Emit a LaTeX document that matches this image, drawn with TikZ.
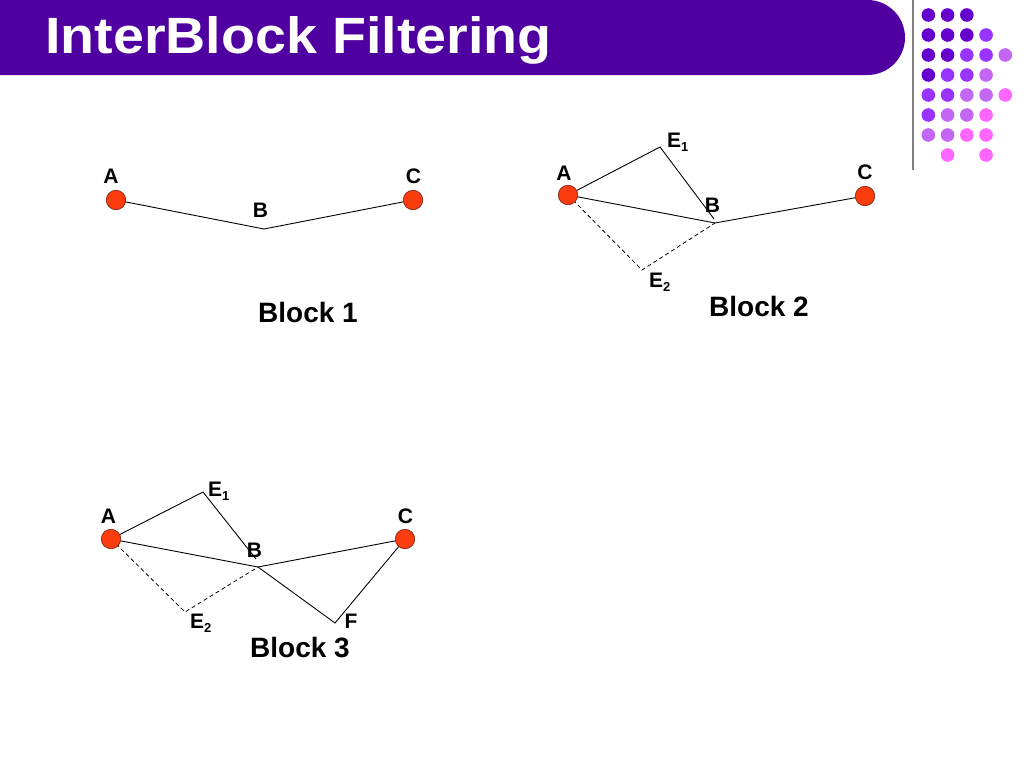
\documentclass[tikz,border=0pt]{standalone}
\usepackage{fontspec}
\setmainfont{Liberation Sans}
\definecolor{barpurple}{HTML}{5000A0}
\definecolor{ptred}{HTML}{FA3C0F}
\definecolor{ptedge}{HTML}{702010}
\definecolor{dotD}{HTML}{6600CC}
\definecolor{dotM}{HTML}{9933FF}
\definecolor{dotL}{HTML}{C466F4}
\definecolor{dotP}{HTML}{FF66FF}
\newcommand\lowsub[1]{\raisebox{-4pt}{\fontsize{13}{13}\selectfont #1}}
\begin{document}
\begin{tikzpicture}[x=1pt,y=-1pt,
  lbl/.style={font=\fontsize{21}{21}\selectfont\bfseries, inner sep=0pt, anchor=base},
  lblw/.style={font=\fontsize{21}{21}\selectfont\bfseries, inner sep=0pt, anchor=base west},
  blk/.style={font=\fontsize{28}{28}\selectfont\bfseries, inner sep=0pt, anchor=base west},
  pt/.style={circle, fill=ptred, draw=ptedge, line width=0.6pt, minimum size=19.5pt, inner sep=0pt},
  edge/.style={line width=0.9pt},
  dsh/.style={line width=0.8pt, dash pattern=on 4pt off 3pt}]
\useasboundingbox (0,0) rectangle (1024,768);
\fill[white] (0,0) rectangle (1024,768);
% title bar
\fill[barpurple, rounded corners=37.5pt] (-60,0) rectangle (905,75);
\fill[barpurple] (0,0) rectangle (100,75);
\node[anchor=base west, inner sep=0pt, text=white, font=\fontsize{51}{51}\selectfont\bfseries] (title) at (45,54) {\scalebox{1.09}[1]{InterBlock Filtering}};
% gray rule
\draw[gray, line width=1.3pt] (913,0) -- (913,170);
% dots
\foreach \c/\r/\col in {0/0/dotD,1/0/dotD,2/0/dotD,
  0/1/dotD,1/1/dotD,2/1/dotD,3/1/dotM,
  0/2/dotD,1/2/dotD,2/2/dotM,3/2/dotM,4/2/dotL,
  0/3/dotD,1/3/dotM,2/3/dotM,3/3/dotL,
  0/4/dotM,1/4/dotM,2/4/dotL,3/4/dotL,4/4/dotP,
  0/5/dotM,1/5/dotL,2/5/dotL,3/5/dotP,
  0/6/dotL,1/6/dotL,2/6/dotP,3/6/dotP,
  1/7/dotP,3/7/dotP}
  \fill[\col] ({928.3+19.25*\c},{15+20*\r}) circle (6.8pt);
% ---------- Block 1
\node[pt] (a1) at (116,200) {};
\node[pt] (c1) at (413,200) {};
\coordinate (b1) at (264,229);
\draw[edge] (a1) -- (b1) -- (c1);
\node[lbl] (la1) at (111,183) {A};
\node[lbl] (lb1) at (260.5,217) {B};
\node[lbl] (lc1) at (413.5,183) {C};
\node[blk] (t1) at (258,322) {Block 1};
% ---------- Block 2
\coordinate (b2) at (715,223);
\coordinate (e12) at (660,147);
\coordinate (e1end2) at (714,219);
\coordinate (e22) at (642,270);
\draw[edge] (568,195) -- (e12) -- (e1end2);
\draw[edge] (568,195) -- (b2) -- (865,196);
\draw[dsh] (568,195) -- (e22) -- (b2);
\node[pt] (a2) at (568,195) {};
\node[pt] (c2) at (865,196) {};
\node[lbl] (la2) at (564,180) {A};
\node[lbl] (lc2) at (865,179) {C};
\node[lblw] (le12) at (667,147) {E\lowsub{1}};
\node[lbl] (lb2) at (712.5,212) {B};
\node[lblw] (le22) at (649,287) {E\lowsub{2}};
\node[blk] (t2) at (709,316) {Block 2};
% ---------- Block 3
\coordinate (b3) at (258,567);
\coordinate (e13) at (203,492);
\coordinate (e1end3) at (256,559);
\coordinate (e23) at (185,612);
\coordinate (f3) at (335,623);
\draw[edge] (111,539) -- (e13) -- (e1end3);
\draw[edge] (111,539) -- (b3) -- (405,539);
\draw[edge] (b3) -- (f3) -- (405,539);
\draw[dsh] (111,539) -- (e23) -- (b3);
\node[pt] (a3) at (111,539) {};
\node[pt] (c3) at (405,539) {};
\node[lbl] (la3) at (108.5,523) {A};
\node[lbl] (lc3) at (405.5,523) {C};
\node[lblw] (le13) at (208,496) {E\lowsub{1}};
\node[lbl] (lb3) at (254.5,557) {B};
\node[lblw] (le23) at (190,628) {E\lowsub{2}};
\node[lbl] (lf3) at (351,628) {F};
\node[blk] (t3) at (250,657) {Block 3};
\end{tikzpicture}
\end{document}
